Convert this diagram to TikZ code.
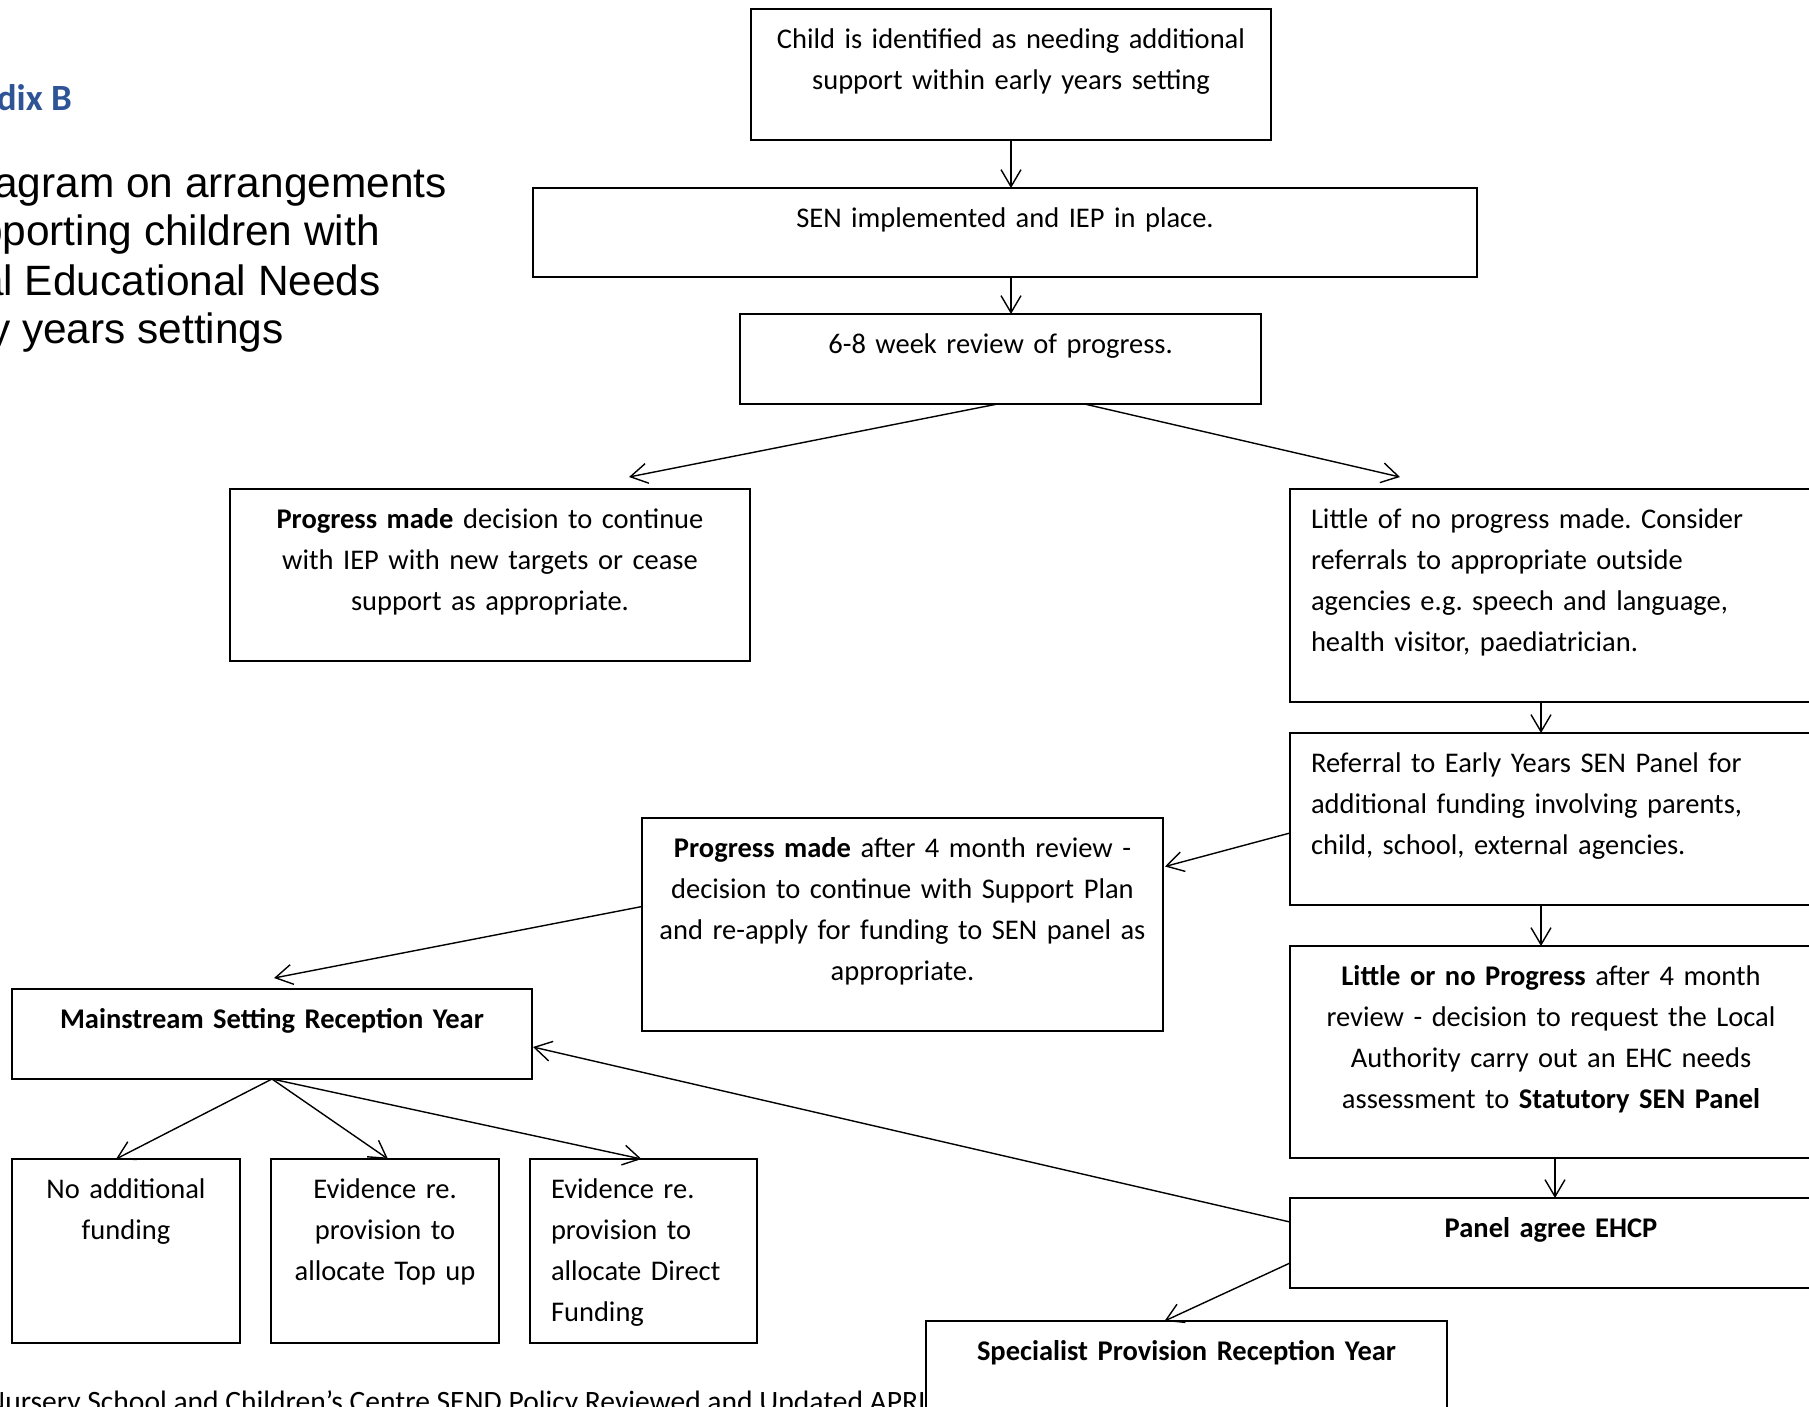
\documentclass[tikz,border=0pt]{standalone}
\usepackage{fontspec}
\setmainfont{Carlito}
\newfontfamily\headfont{Liberation Sans}
\usetikzlibrary{arrows.meta}
\definecolor{appblue}{RGB}{47,84,150}
\newcommand{\boxfont}{\fontsize{28.5}{41}\selectfont}

\begin{document}
\frenchspacing
\begin{tikzpicture}[x=1pt,y=-1pt]
\tikzstyle{box}=[draw, line width=1.8pt, fill=white, anchor=north west, outer sep=0pt,
  inner xsep=10pt, inner ysep=0pt, text height=39pt, align=center, font=\boxfont]
\tikzstyle{lbox}=[box, inner xsep=21pt, align=left]
\tikzstyle{link}=[-{Straight Barb[length=17pt,width=20pt]}, line width=1.4pt]

\useasboundingbox (0,0) rectangle (1809,1406);
\clip (0,0) rectangle (1809,1406);
\fill[white] (0,0) rectangle (1809,1406);

% heading, cut at the left page edge
\node[anchor=base east, inner sep=0pt, text=appblue, font=\fontsize{37}{44}\selectfont\bfseries] (appx) at (72,110) {Appendix B};
\node[anchor=base east, inner sep=0pt, font=\headfont\fontsize{42.4}{48}\selectfont] (head1) at (447,197) {Flow diagram on arrangements};
\node[anchor=base east, inner sep=0pt, font=\headfont\fontsize{42.4}{48}\selectfont] (head2) at (380,245) {for supporting children with};
\node[anchor=base east, inner sep=0pt, font=\headfont\fontsize{42.4}{48}\selectfont] (head3) at (381,295) {Special Educational Needs};
\node[anchor=base east, inner sep=0pt, font=\headfont\fontsize{42.4}{48}\selectfont] (head4) at (284,343) {in early years settings};

% footer line, partly hidden by the last box
\node[anchor=base west, inner sep=0pt, font=\fontsize{29.55}{41}\selectfont] (footer) at (-14,1411) {Nursery School and Children’s Centre SEND Policy Reviewed and Updated APRIL};

% main column
\node[box, text width=500pt, text depth=92pt] (child) at (751,9) {Child is identified as needing additional\\support within early years setting};
\node[box, text width=924pt, text depth=50pt] (sen) at (533,188) {SEN implemented and IEP in place.};
\node[box, text width=501pt, text depth=51pt] (rev) at (740,314) {6-8 week review of progress.};

\node[box, text width=500pt, text depth=133pt] (prog) at (230,489) {\textbf{Progress made} decision to continue\\with IEP with new targets or cease\\support as appropriate.};
\node[lbox, text width=480pt, text depth=174pt] (little) at (1290,489) {Little of no progress made. Consider\\referrals to appropriate outside\\agencies e.g. speech and language,\\health visitor, paediatrician.};
\node[lbox, text width=480pt, text depth=133pt] (refer) at (1290,733) {Referral to Early Years SEN Panel for\\additional funding involving parents,\\child, school, external agencies.};
\node[box, text width=502pt, text depth=173pt] (statut) at (1290,946) {\textbf{Little or no Progress} after 4 month\\review - decision to request the Local\\Authority carry out an EHC needs\\assessment to \textbf{Statutory SEN Panel}};
\node[box, text width=502pt, text depth=51pt] (panel) at (1290,1198) {\textbf{Panel agree EHCP}};
\node[box, text width=501pt, text depth=71pt] (spec) at (926,1321) {\textbf{Specialist Provision Reception Year}};

\node[box, text width=501pt, text depth=174pt] (prog4) at (642,818) {\textbf{Progress made} after 4 month review -\\decision to continue with Support Plan\\and re-apply for funding to SEN panel as\\appropriate.};
\node[box, text width=500pt, text depth=51pt] (main) at (12,989) {\textbf{Mainstream Setting Reception Year}};

% funding options
\node[box, text width=208pt, text depth=145pt] (nofund) at (12,1159) {No additional\\funding};
\node[box, text width=208pt, text depth=145pt] (topup) at (271,1159) {Evidence re.\\provision to\\allocate Top up};
\node[lbox, text width=185pt, text depth=145pt] (direct) at (530,1159) {Evidence re.\\provision to\\allocate Direct\\Funding};

% arrows
\draw[link] (child.south) -- (child.south |- sen.north);
\draw[link] (child.south |- sen.south) -- (child.south |- rev.north);
\draw[link] ([shift={(-3,0)}]rev.south) -- ([shift={(139,-12)}]prog.north);
\draw[link] ([shift={(84,0)}]rev.south) -- ([shift={(-151,-12)}]little.north);
\draw[link] ([shift={(-10,0)}]little.south) -- ([shift={(-10,0)}]refer.north);
\draw[link] ([shift={(-10,0)}]refer.south) -- ([shift={(-10,0)}]statut.north);
\draw[link] ([shift={(4,0)}]statut.south) -- ([shift={(4,0)}]panel.north);
\draw[link] ([shift={(0,14)}]refer.west) -- ([shift={(2,-58)}]prog4.east);
\draw[link] ([shift={(0,-18)}]prog4.west) -- ([shift={(2,-11)}]main.north);
\draw[link] ([shift={(0,-21)}]panel.west) -- ([shift={(1,13)}]main.east);
\draw[link] ([shift={(0,20)}]panel.west) -- ([shift={(-22,0)}]spec.north);
\foreach \b/\s in {nofund/-10, topup/3, direct/-2}
  \draw[link] (main.south) -- ([shift={(\s,0)}]\b.north);
\end{tikzpicture}
\end{document}
